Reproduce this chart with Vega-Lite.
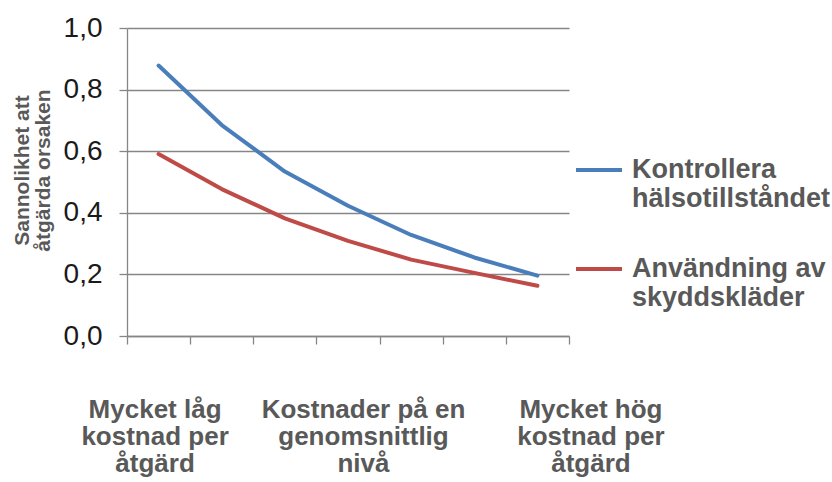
{
  "$schema": "https://vega.github.io/schema/vega-lite/v6.json",
  "width": 442,
  "height": 308,
  "autosize": {"type": "none"},
  "padding": {"left": 127, "top": 28, "right": 263, "bottom": 146},
  "background": "white",
  "config": {"view": {"stroke": null}, "font": "Liberation Sans"},
  "data": {
    "values": [
      {"steg": 1, "serie": "Kontrollera hälsotillståndet", "sannolikhet": 0.878},
      {"steg": 2, "serie": "Kontrollera hälsotillståndet", "sannolikhet": 0.685},
      {"steg": 3, "serie": "Kontrollera hälsotillståndet", "sannolikhet": 0.534},
      {"steg": 4, "serie": "Kontrollera hälsotillståndet", "sannolikhet": 0.423},
      {"steg": 5, "serie": "Kontrollera hälsotillståndet", "sannolikhet": 0.328},
      {"steg": 6, "serie": "Kontrollera hälsotillståndet", "sannolikhet": 0.255},
      {"steg": 7, "serie": "Kontrollera hälsotillståndet", "sannolikhet": 0.196},
      {"steg": 1, "serie": "Användning av skyddskläder", "sannolikhet": 0.591},
      {"steg": 2, "serie": "Användning av skyddskläder", "sannolikhet": 0.477},
      {"steg": 3, "serie": "Användning av skyddskläder", "sannolikhet": 0.382},
      {"steg": 4, "serie": "Användning av skyddskläder", "sannolikhet": 0.309},
      {"steg": 5, "serie": "Användning av skyddskläder", "sannolikhet": 0.248},
      {"steg": 6, "serie": "Användning av skyddskläder", "sannolikhet": 0.205},
      {"steg": 7, "serie": "Användning av skyddskläder", "sannolikhet": 0.163}
    ]
  },
  "mark": {"type": "line", "strokeWidth": 4, "strokeCap": "round", "strokeJoin": "round"},
  "encoding": {
    "x": {
      "field": "steg",
      "type": "ordinal",
      "scale": {"type": "band", "paddingInner": 0, "paddingOuter": 0},
      "axis": {
        "title": null,
        "tickBand": "extent",
        "domainColor": "#868686",
        "domainWidth": 1.3,
        "tickColor": "#868686",
        "tickWidth": 1.3,
        "tickSize": 8,
        "labelOverlap": false,
        "labelAngle": 0,
        "labelFont": "Liberation Sans",
        "labelFontWeight": "bold",
        "labelFontSize": 26,
        "labelColor": "#595959",
        "labelLineHeight": 27,
        "labelBaseline": "alphabetic",
        "labelPadding": 73,
        "labelBound": false,
        "labelFlush": false,
        "labelLimit": 0,
        "labelOffset": {"expr": "datum.value == 1 ? -4 : datum.value == 4 ? 15 : datum.value == 7 ? 53 : 0"},
        "labelExpr": "datum.value == 1 ? ['Mycket låg', 'kostnad per', 'åtgärd'] : datum.value == 4 ? ['Kostnader på en', 'genomsnittlig', 'nivå'] : datum.value == 7 ? ['Mycket hög', 'kostnad per', 'åtgärd'] : ''"
      }
    },
    "y": {
      "field": "sannolikhet",
      "type": "quantitative",
      "scale": {"domain": [0, 1], "nice": false},
      "axis": {
        "title": ["Sannolikhet att", "åtgärda orsaken"],
        "titleFont": "Liberation Sans",
        "titleFontWeight": "bold",
        "titleFontSize": 21,
        "titleColor": "#595959",
        "titleLineHeight": 21,
        "titleAngle": -90,
        "titleAlign": "center",
        "titleBaseline": "alphabetic",
        "titleX": -99,
        "titleY": 142,
        "values": [0, 0.2, 0.4, 0.6, 0.8, 1],
        "labelExpr": "replace(format(datum.value, '.1f'), '.', ',')",
        "labelFont": "Liberation Sans Narrow, Liberation Sans",
        "labelFontSize": 28,
        "labelColor": "#1a1a1a",
        "labelPadding": 17,
        "labelFlush": false,
        "labelBound": false,
        "tickSize": 8,
        "tickColor": "#868686",
        "tickWidth": 1.3,
        "domainColor": "#868686",
        "domainWidth": 1.3,
        "gridColor": "#868686",
        "gridWidth": 1.3
      }
    },
    "color": {
      "field": "serie",
      "type": "nominal",
      "scale": {
        "domain": ["Kontrollera hälsotillståndet", "Användning av skyddskläder"],
        "range": ["#4A7EBB", "#BE4B48"]
      },
      "legend": {
        "orient": "none",
        "legendX": 447,
        "legendY": 117,
        "title": null,
        "symbolType": "stroke",
        "symbolSize": 2116,
        "symbolStrokeWidth": 4,
        "labelFont": "Liberation Sans",
        "labelFontWeight": "bold",
        "labelFontSize": 27,
        "labelColor": "#595959",
        "labelLineHeight": 31,
        "labelBaseline": "middle",
        "labelOffset": 8,
        "labelLimit": 0,
        "rowPadding": 32,
        "labelExpr": "datum.value == 'Kontrollera hälsotillståndet' ? ['Kontrollera', 'hälsotillståndet'] : ['Användning av', 'skyddskläder']"
      }
    }
  }
}
